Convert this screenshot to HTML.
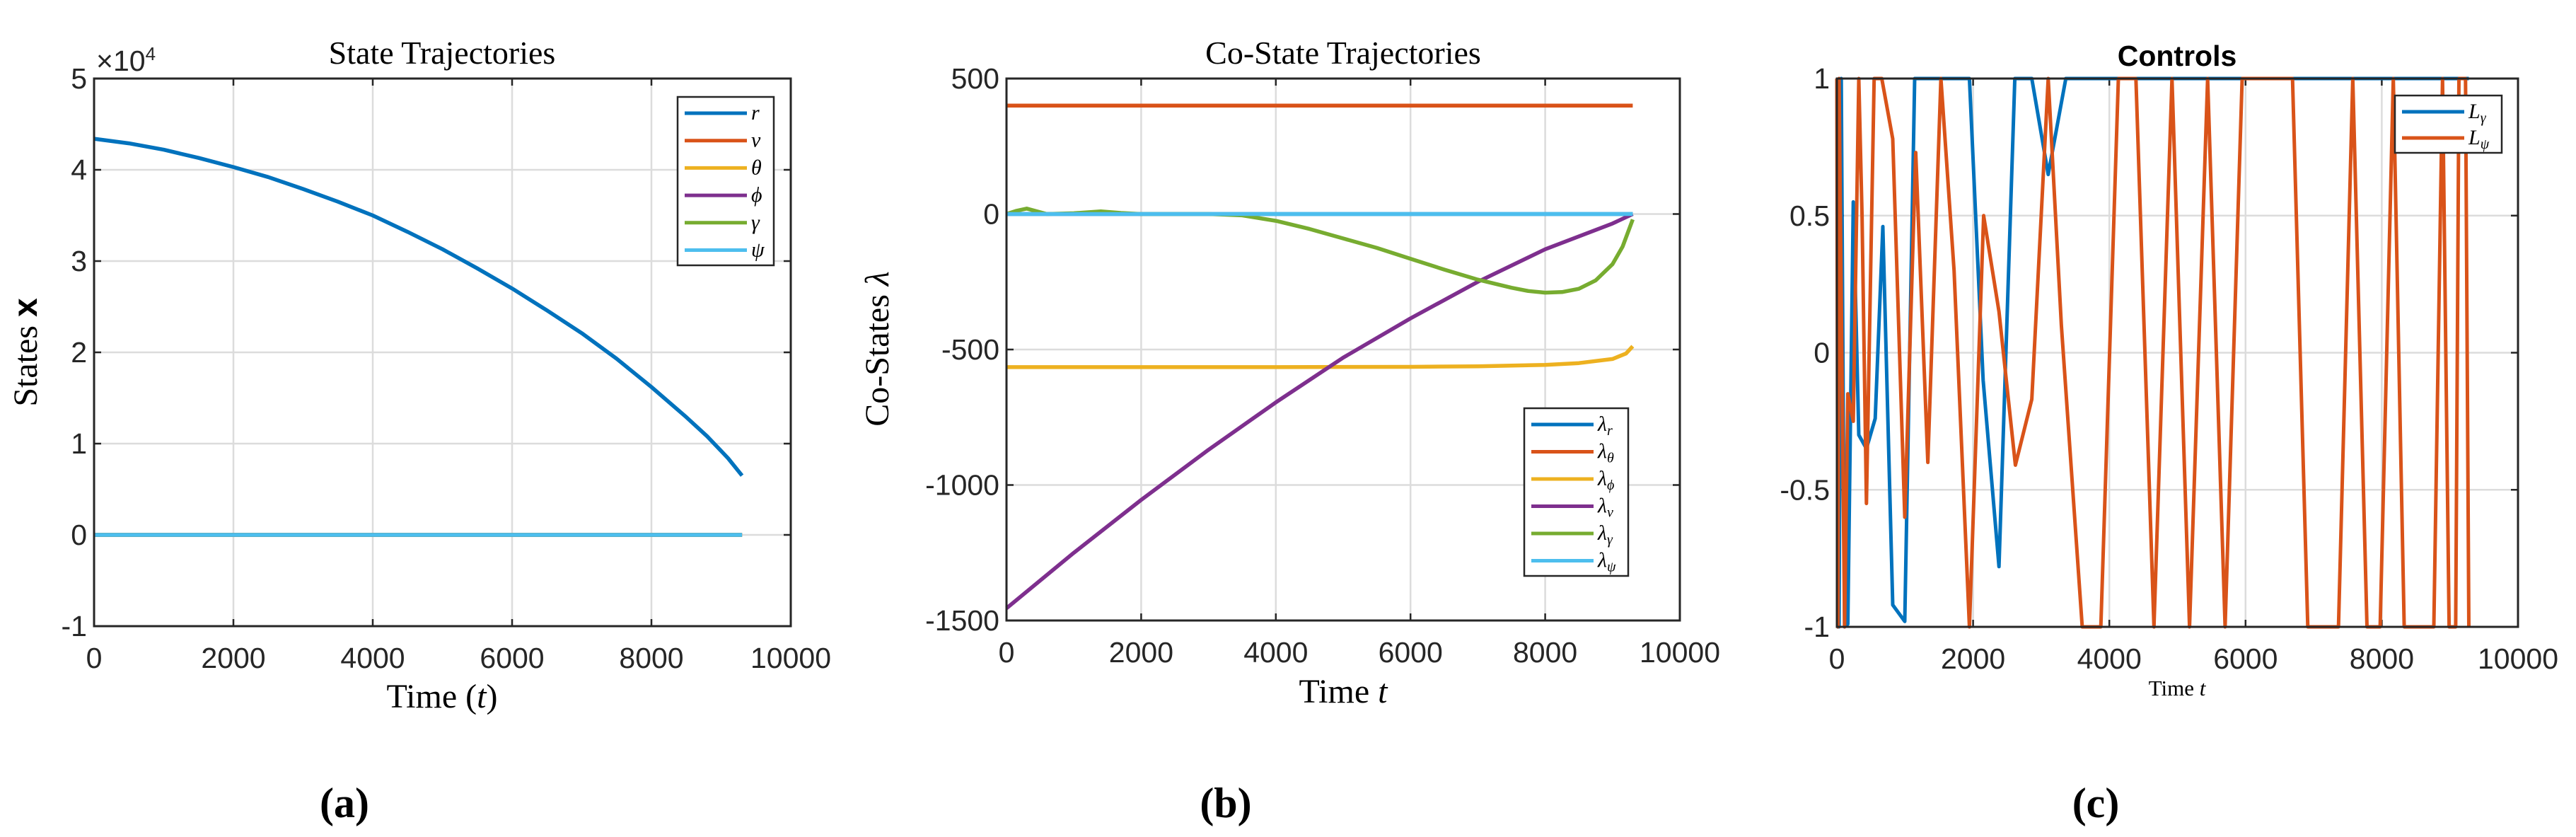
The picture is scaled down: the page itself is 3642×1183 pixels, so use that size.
<!DOCTYPE html>
<html><head><meta charset="utf-8"><style>
html,body{margin:0;padding:0;background:#fff;}
svg{display:block;}
.tk{font-family:"Liberation Sans",sans-serif;font-size:41px;fill:#262626;}
.sr{font-family:"Liberation Serif",serif;fill:#000;}
</style></head><body>
<svg id="fig" width="3642" height="1183" xmlns="http://www.w3.org/2000/svg"></svg>
<script>
// ---------- Panel (a) data ----------
const aT = [0, 500, 1000, 1500, 2000, 2500, 3000, 3500, 4000, 4500, 5000, 5500, 6000, 6500, 7000, 7500, 8000, 8500, 8800, 9100, 9300];
const aR = [4.34, 4.29, 4.22, 4.13, 4.03, 3.92, 3.79, 3.65, 3.50, 3.32, 3.13, 2.92, 2.70, 2.46, 2.21, 1.93, 1.62, 1.29, 1.08, 0.84, 0.65];
const aZeroT = [0, 9300];
const aZeroV = [0, 0];
const aYTicks = [-1, 0, 1, 2, 3, 4, 5];
const xTicks = [0, 2000, 4000, 6000, 8000, 10000];

// ---------- Panel (b) data ----------
const bThetaT = [0, 9300];
const bThetaV = [400, 400];
const bPhiT = [0, 2000, 4000, 6000, 7000, 8000, 8500, 9000, 9200, 9300];
const bPhiV = [-565, -565, -565, -564, -562, -557, -550, -535, -515, -488];
const bVT = [0, 1000, 2000, 3000, 4000, 5000, 6000, 7000, 8000, 9000, 9300];
const bVV = [-1455, -1250, -1055, -870, -695, -530, -385, -250, -130, -35, 0];
const bGT = [0, 150, 300, 450, 600, 1000, 1400, 1700, 2000, 3000, 3500, 4000, 4500, 5000, 5500, 6000, 6500, 7000, 7500, 7750, 8000, 8250, 8500, 8750, 9000, 9150, 9300];
const bGV = [0, 12, 20, 10, 0, 3, 10, 4, 0, 0, -5, -25, -55, -90, -125, -165, -205, -242, -272, -284, -290, -288, -276, -245, -185, -120, -20];
const bZeroT = [0, 9300];
const bZeroV = [0, 0];
const bYTicks = [-1500, -1000, -500, 0, 500];

// ---------- Panel (c) data ----------
const cGammaT = [0, 32, 64, 113, 161, 241, 322, 434, 563, 675, 820, 997, 1142, 1946, 2147, 2380, 2613, 2862, 3103, 3361, 9278];
const cGammaV = [-1, -1, 1, -1, -0.99, 0.55, -0.3, -0.35, -0.24, 0.46, -0.92, -0.98, 1, 1, -0.1, -0.78, 1, 1, 0.65, 1, 1];
const cPsiT = [0, 16, 32, 113, 161, 241, 322, 370, 434, 547, 659, 820, 997, 1158, 1335, 1528, 1721, 1946, 2155, 2380, 2621, 2862, 3103, 3296, 3602, 3875, 4133, 4390, 4655, 4920, 5178, 5443, 5700, 5950, 6689, 6914, 7365, 7574, 7783, 7976, 8169, 8329, 8764, 8892, 8989, 9085, 9133, 9230, 9278];
const cPsiV = [1, -1, 1, -1, -0.15, -0.25, 1, 0.5, -0.55, 1, 1, 0.78, -0.6, 0.73, -0.4, 1, 0.3, -1, 0.5, 0.15, -0.41, -0.17, 1, 0.1, -1, -1, 1, 1, -1, 1, -1, 1, -1, 1, 1, -1, -1, 1, -1, -1, 1, -1, -1, 1, -1, -1, 1, 1, -1];
const cYTicks = [-1, -0.5, 0, 0.5, 1];
const cYLabels = ['-1', '-0.5', '0', '0.5', '1'];

const NS = 'http://www.w3.org/2000/svg';
const fig = document.getElementById('fig');
function el(tag, attrs, parent, txt) {
  const e = document.createElementNS(NS, tag);
  for (const k in attrs) e.setAttribute(k, attrs[k]);
  if (txt !== undefined) e.textContent = txt;
  (parent || fig).appendChild(e);
  return e;
}
const C = {blue:'#0072BD', red:'#D95319', yel:'#EDB120', pur:'#7E2F8E', grn:'#77AC30', cyan:'#4DBEEE'};

function makeAxes(name, L, T, R, B, xmin, xmax, ymin, ymax, yt, ylabs) {
  const g = el('g', {});
  
  
  const sx = v => L + (v - xmin) / (xmax - xmin) * (R - L);
  const sy = v => B - (v - ymin) / (ymax - ymin) * (B - T);
  const grid = el('g', {}, g);
  
  
  xTicks.forEach(v => {
    el('line', {x1: sx(v), x2: sx(v), y1: T, y2: B, stroke: '#dcdcdc', 'stroke-width': 2.5}, grid);
  });
  yt.forEach(v => {
    el('line', {x1: L, x2: R, y1: sy(v), y2: sy(v), stroke: '#dcdcdc', 'stroke-width': 2.5}, grid);
  });
  const ticks = el('g', {}, g);
  
  
  xTicks.forEach(v => {
    el('line', {x1: sx(v), x2: sx(v), y1: B, y2: B - 10, stroke: '#262626', 'stroke-width': 2.5}, ticks);
    el('line', {x1: sx(v), x2: sx(v), y1: T, y2: T + 10, stroke: '#262626', 'stroke-width': 2.5}, ticks);
    const t = el('text', {x: sx(v), y: B + 59, 'text-anchor': 'middle', class: 'tk'}, ticks, String(v));
    
    
  });
  yt.forEach((v, i) => {
    el('line', {x1: L, x2: L + 10, y1: sy(v), y2: sy(v), stroke: '#262626', 'stroke-width': 2.5}, ticks);
    el('line', {x1: R, x2: R - 10, y1: sy(v), y2: sy(v), stroke: '#262626', 'stroke-width': 2.5}, ticks);
    const t = el('text', {x: L - 10, y: sy(v) + 14, 'text-anchor': 'end', class: 'tk'}, ticks, ylabs ? ylabs[i] : String(v));
    
    
  });
  return {g, sx, sy, L, T, R, B};
}
function series(ax, name, xs, ys, color, w) {
  const d = xs.map((x, i) => (i ? 'L' : 'M') + ax.sx(x).toFixed(1) + ',' + ax.sy(ys[i]).toFixed(1)).join('');
  const p = el('path', {d, fill: 'none', stroke: color, 'stroke-width': w || 5.5, 'stroke-linejoin': 'round'}, ax.g);
  
  
}
function frame(ax) {
  const r = el('rect', {x: ax.L, y: ax.T, width: ax.R - ax.L, height: ax.B - ax.T, fill: 'none', stroke: '#262626', 'stroke-width': 3}, ax.g);
  
  
}
function legend(name, x, y, w, h, entries, step) {
  const g = el('g', {});
  
  
  el('rect', {x, y, width: w, height: h, fill: '#fff', stroke: '#262626', 'stroke-width': 2.5}, g);
  entries.forEach((e, i) => {
    const yy = y + 23 + i * step;
    const it = el('g', {}, g);
    
    
    el('line', {x1: x + 10, x2: x + 98, y1: yy, y2: yy, stroke: e.c, 'stroke-width': 5}, it);
    const t = el('text', {x: x + 104, y: yy + 9, class: 'sr', 'font-size': 30, 'font-style': 'italic'}, it);
    el('tspan', {}, t, e.m);
    if (e.s) el('tspan', {'font-size': 20, dy: 6}, t, e.s);
  });
}
function txt(name, x, y, s, attrs) {
  const t = el('text', Object.assign({x, y, 'text-anchor': 'middle'}, attrs), fig, s);
  
  
  return t;
}

// ---------- Panel a ----------
const A = makeAxes('panel-a-axes', 133, 111, 1118, 885, 0, 10000, -1, 5, aYTicks);
series(A, 'series-r', aT, aR, C.blue);
series(A, 'series-v', aZeroT, aZeroV, C.red);
series(A, 'series-theta', aZeroT, aZeroV, C.yel);
series(A, 'series-phi', aZeroT, aZeroV, C.pur);
series(A, 'series-gamma', aZeroT, aZeroV, C.grn);
series(A, 'series-psi', aZeroT, aZeroV, C.cyan);
frame(A);
legend('legend-a', 958, 137, 136, 238, [{c:C.blue,m:'r'},{c:C.red,m:'v'},{c:C.yel,m:'θ'},{c:C.pur,m:'ϕ'},{c:C.grn,m:'γ'},{c:C.cyan,m:'ψ'}], 38.7);
txt('title-a', 625, 90, 'State Trajectories', {class: 'sr', 'font-size': 46});
const ex = txt('exponent-label', 136, 100, '', {class: 'tk', 'text-anchor': 'start', 'font-size': 36});
el('tspan', {}, ex, '×10');
el('tspan', {dy: -15, 'font-size': 26}, ex, '4');
const yla = txt('y-axis-title-a', 52, 498, 'States ', {class: 'sr', 'font-size': 48, transform: 'rotate(-90 52 498)'});
el('tspan', {'font-weight': 'bold', 'font-family': 'Liberation Sans, sans-serif'}, yla, 'x');
const xla = txt('x-axis-title-a', 625, 1000, 'Time (', {class: 'sr', 'font-size': 48});
el('tspan', {'font-style': 'italic'}, xla, 't');
el('tspan', {}, xla, ')');
txt('caption-a', 487, 1155, '(a)', {class: 'sr', 'font-size': 60, 'font-weight': 'bold'});

// ---------- Panel b ----------
const Bx = makeAxes('panel-b-axes', 1423, 111, 2375, 877, 0, 10000, -1500, 500, bYTicks);
series(Bx, 'series-lambda-r', bZeroT, bZeroV, C.blue);
series(Bx, 'series-lambda-theta', bThetaT, bThetaV, C.red);
series(Bx, 'series-lambda-phi', bPhiT, bPhiV, C.yel);
series(Bx, 'series-lambda-v', bVT, bVV, C.pur);
series(Bx, 'series-lambda-gamma', bGT, bGV, C.grn);
series(Bx, 'series-lambda-psi', bZeroT, bZeroV, C.cyan);
frame(Bx);
legend('legend-b', 2155, 577, 147, 237, [{c:C.blue,m:'λ',s:'r'},{c:C.red,m:'λ',s:'θ'},{c:C.yel,m:'λ',s:'ϕ'},{c:C.pur,m:'λ',s:'v'},{c:C.grn,m:'λ',s:'γ'},{c:C.cyan,m:'λ',s:'ψ'}], 38.5);
txt('title-b', 1899, 90, 'Co-State Trajectories', {class: 'sr', 'font-size': 46});
const ylb = txt('y-axis-title-b', 1256, 493, 'Co-States ', {class: 'sr', 'font-size': 48, transform: 'rotate(-90 1256 493)'});
el('tspan', {'font-style': 'italic'}, ylb, 'λ');
const xlb = txt('x-axis-title-b', 1899, 993, 'Time ', {class: 'sr', 'font-size': 48});
el('tspan', {'font-style': 'italic'}, xlb, 't');
txt('caption-b', 1733, 1155, '(b)', {class: 'sr', 'font-size': 60, 'font-weight': 'bold'});

// ---------- Panel c ----------
const Cx = makeAxes('panel-c-axes', 2597, 111, 3560, 886, 0, 10000, -1, 1, cYTicks, cYLabels);
series(Cx, 'series-L-gamma', cGammaT, cGammaV, C.blue, 5);
series(Cx, 'series-L-psi', cPsiT, cPsiV, C.red, 5);
frame(Cx);
legend('legend-c', 3386, 135, 151, 81, [{c:C.blue,m:'L',s:'γ'},{c:C.red,m:'L',s:'ψ'}], 37);
txt('title-c', 3078, 93, 'Controls', {'font-family': 'Liberation Sans, sans-serif', 'font-size': 41, 'font-weight': 'bold', fill: '#000'});
const xlc = txt('x-axis-title-c', 3078, 983, 'Time ', {class: 'sr', 'font-size': 31});
el('tspan', {'font-style': 'italic'}, xlc, 't');
txt('caption-c', 2963, 1155, '(c)', {class: 'sr', 'font-size': 60, 'font-weight': 'bold'});
</script>
</body></html>
